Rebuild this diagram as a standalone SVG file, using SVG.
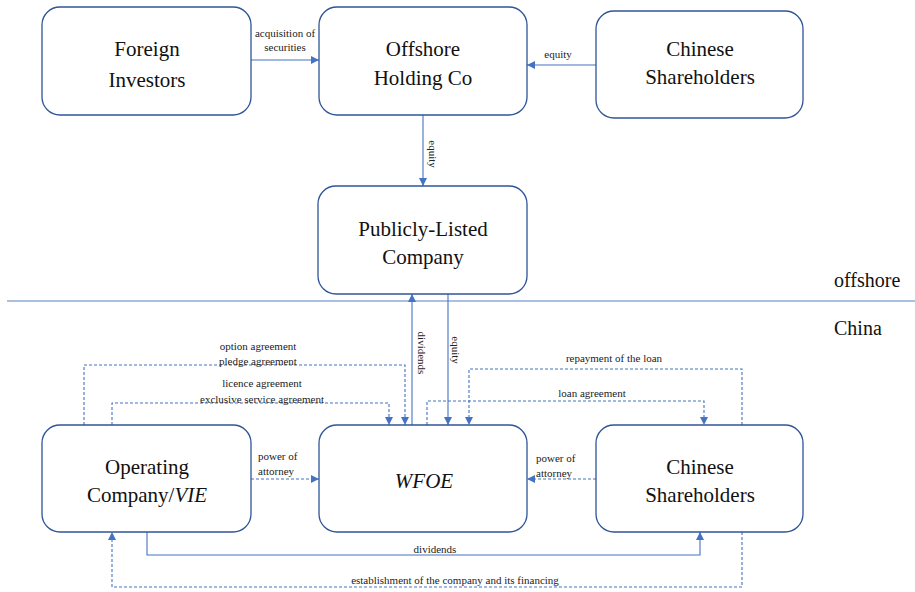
<svg xmlns="http://www.w3.org/2000/svg" width="915" height="592" viewBox="0 0 915 592">
<style>
text{font-family:'Liberation Serif','Times New Roman',serif}
.box{fill:#fff;stroke:#2f5597;stroke-width:1.3}
.bt{font-size:21px;fill:#111;text-anchor:middle}
.lb{font-size:11px;fill:#222}
.c{text-anchor:middle}
.ln{fill:none;stroke:#4472c4;stroke-width:1.1}
.dt{fill:none;stroke:#4472c4;stroke-width:1.1;stroke-dasharray:3 2}
.zone{font-size:20px;fill:#111}
</style>
<defs>
<marker id="ah" viewBox="0 0 10 10" refX="10" refY="5" markerWidth="8" markerHeight="8" markerUnits="userSpaceOnUse" orient="auto">
<path d="M0,0 L10,5 L0,10 z" fill="#4472c4"/>
</marker>
</defs>
<line x1="7" y1="301" x2="915" y2="301" stroke="#8eaadb" stroke-width="1.6"/>
<text class="zone" x="834" y="287">offshore</text>
<text class="zone" x="834" y="335">China</text>

<g id="connectors">
<line class="ln" x1="251" y1="60" x2="319" y2="60" marker-end="url(#ah)"/>
<text class="lb c" x="285" y="37">acquisition of</text>
<text class="lb c" x="285" y="51">securities</text>
<line class="ln" x1="596" y1="65" x2="527" y2="65" marker-end="url(#ah)"/>
<text class="lb c" x="558" y="58">equity</text>
<line class="ln" x1="423" y1="115" x2="423" y2="186" marker-end="url(#ah)"/>
<text class="lb c" dominant-baseline="central" transform="translate(433,154) rotate(90)">equity</text>
<line class="ln" x1="412" y1="425" x2="412" y2="294" marker-end="url(#ah)"/>
<text class="lb c" dominant-baseline="central" transform="translate(422,353) rotate(90)">dividends</text>
<line class="ln" x1="448" y1="294" x2="448" y2="425" marker-end="url(#ah)"/>
<text class="lb c" dominant-baseline="central" transform="translate(456,350) rotate(90)">equity</text>

<polyline class="dt" points="84,425 84,365 405,365 405,425" marker-end="url(#ah)"/>
<text class="lb c" x="258" y="350">option agreement</text>
<text class="lb c" x="258" y="365">pledge agreement</text>
<polyline class="dt" points="112,425 112,403 389,403 389,425" marker-end="url(#ah)"/>
<text class="lb c" x="262" y="387">licence agreement</text>
<text class="lb c" x="262" y="403">exclusive service agreement</text>

<polyline class="dt" points="742,425 742,369 469,369 469,425" marker-end="url(#ah)"/>
<text class="lb c" x="614" y="362">repayment of the loan</text>
<polyline class="dt" points="427,425 427,401 704,401 704,425" marker-end="url(#ah)"/>
<text class="lb c" x="592" y="397">loan agreement</text>

<line class="dt" x1="251" y1="479" x2="319" y2="479" marker-end="url(#ah)"/>
<text class="lb" x="258" y="460">power of</text>
<text class="lb" x="258" y="475">attorney</text>
<line class="dt" x1="596" y1="479" x2="527" y2="479" marker-end="url(#ah)"/>
<text class="lb" x="536" y="462">power of</text>
<text class="lb" x="536" y="477">attorney</text>

<polyline class="ln" points="147,532 147,555 700,555 700,532" marker-end="url(#ah)"/>
<text class="lb c" x="435" y="553">dividends</text>
<polyline class="dt" points="742,532 742,587 112,587 112,532" marker-end="url(#ah)"/>
<text class="lb c" x="455" y="584">establishment of the company and its financing</text>
</g>

<g id="foreign-investors">
<rect class="box" x="42" y="7" width="209" height="108" rx="18"/>
<text class="bt" x="147" y="56">Foreign</text>
<text class="bt" x="147" y="87">Investors</text>
</g>
<g id="offshore-holding">
<rect class="box" x="319" y="7" width="208" height="108" rx="18"/>
<text class="bt" x="423" y="56">Offshore</text>
<text class="bt" x="423" y="85">Holding Co</text>
</g>
<g id="chinese-shareholders-top">
<rect class="box" x="596" y="11" width="207" height="107" rx="18"/>
<text class="bt" x="700" y="56">Chinese</text>
<text class="bt" x="700" y="84">Shareholders</text>
</g>
<g id="publicly-listed">
<rect class="box" x="318" y="186" width="209" height="108" rx="18"/>
<text class="bt" x="423" y="236">Publicly-Listed</text>
<text class="bt" x="423" y="264">Company</text>
</g>
<g id="operating-company">
<rect class="box" x="42" y="425" width="209" height="107" rx="18"/>
<text class="bt" x="147" y="474">Operating</text>
<text class="bt" x="147" y="502">Company/<tspan font-style="italic">VIE</tspan></text>
</g>
<g id="wfoe">
<rect class="box" x="319" y="425" width="208" height="107" rx="18"/>
<text class="bt" x="424" y="488" font-style="italic">WFOE</text>
</g>
<g id="chinese-shareholders-bottom">
<rect class="box" x="596" y="425" width="207" height="107" rx="18"/>
<text class="bt" x="700" y="474">Chinese</text>
<text class="bt" x="700" y="502">Shareholders</text>
</g>
</svg>
